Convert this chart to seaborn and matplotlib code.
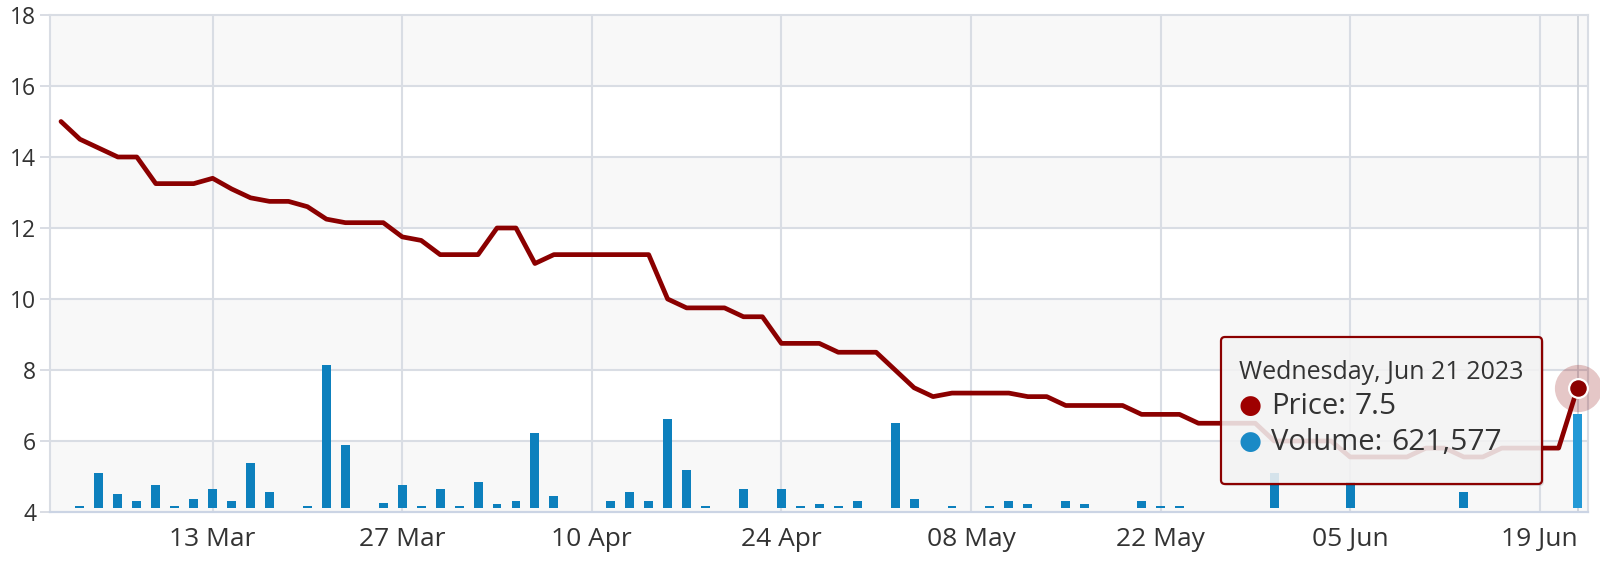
import numpy as np
import pandas as pd
import matplotlib
matplotlib.use('Agg')
import matplotlib.pyplot as plt
from matplotlib.patches import FancyBboxPatch
from matplotlib.text import Annotation
import seaborn as sns

# ---------------- data ----------------
dates = pd.bdate_range('2023-03-01', '2023-06-21')  # 81 trading days
price = [15.0, 14.5, 14.25, 14.0, 14.0, 13.25, 13.25, 13.25, 13.4, 13.1,
         12.85, 12.75, 12.75, 12.6, 12.25, 12.15, 12.15, 12.15, 11.75, 11.65,
         11.25, 11.25, 11.25, 12.0, 12.0, 11.0, 11.25, 11.25, 11.25, 11.25,
         11.25, 11.25, 10.0, 9.75, 9.75, 9.75, 9.5, 9.5, 8.75, 8.75,
         8.75, 8.5, 8.5, 8.5, 8.0, 7.5, 7.25, 7.35, 7.35, 7.35,
         7.35, 7.25, 7.25, 7.0, 7.0, 7.0, 7.0, 6.75, 6.75, 6.75,
         6.5, 6.5, 6.5, 6.5, 6.0, 6.0, 6.0, 6.0, 5.55, 5.55,
         5.55, 5.55, 5.8, 5.8, 5.55, 5.55, 5.8, 5.8, 5.8, 5.8,
         7.5]
volume = [0, 15000, 231000, 93000, 46000, 154000, 15000, 62000, 126000, 46000,
          296000, 108000, 0, 15000, 948000, 419000, 0, 31000, 154000, 15000,
          126000, 15000, 170000, 28000, 44000, 496000, 77000, 0, 0, 44000,
          106000, 44000, 589000, 249000, 15000, 0, 126000, 0, 126000, 15000,
          28000, 15000, 48000, 0, 562000, 62000, 0, 15000, 0, 15000,
          48000, 28000, 0, 48000, 28000, 0, 0, 48000, 15000, 15000,
          0, 0, 0, 0, 231000, 0, 0, 0, 172000, 0,
          0, 0, 0, 0, 106000, 0, 0, 0, 0, 0,
          621577]
tick_labels = ['13 Mar', '27 Mar', '10 Apr', '24 Apr', '08 May', '22 May', '05 Jun', '19 Jun']
y_ticks = [4, 6, 8, 10, 12, 14, 16, 18]
tooltip_title = 'Wednesday, Jun 21 2023'
tooltip_items = [('Price:', '7.5'), ('Volume:', '621,577')]

# ---------------- style ----------------
sns.set_theme(style='white')
plt.rcParams['font.family'] = ['Open Sans', 'DejaVu Sans']

W, H = 1600, 570
RED = '#8b0000'
BLUE = '#0d80bd'
BLUE_HI = '#2399d6'
GRID = '#d9dde4'
TXT = '#333333'

fig = plt.figure(figsize=(W / 100, H / 100), dpi=100)
fig.patch.set_facecolor('white')
ax = fig.add_axes([50 / W, 1 - 512 / H, (1588 - 50) / W, (512 - 15) / H])
ax2 = ax.twinx()

idx = np.arange(len(dates))
df = pd.DataFrame({'i': idx, 'price': price, 'volume': volume})

# bands
ax.set_facecolor('white')
for lo in [4, 8, 12, 16]:
    ax.axhspan(lo, lo + 2, color='#f8f8f8', lw=0, zorder=0)

# price line
sns.lineplot(data=df, x='i', y='price', ax=ax, color=RED, linewidth=3.4,
             zorder=4, solid_joinstyle='round', solid_capstyle='round')

# volume bars
sns.barplot(data=df, x='i', y='volume', ax=ax2, native_scale=True, width=0.47,
            color=BLUE, saturation=1, errorbar=None, zorder=3)
ax2.patches[-1].set_facecolor(BLUE_HI)
for p in ax2.patches:
    p.set_linewidth(0)

# limits
ax.set_xlim(-0.58, 80.55)
ax.set_ylim(4, 18)
ax2.set_ylim(-26450, 3260000)
ax2.set_xlim(-0.58, 80.55)

# ticks
tick_pos = [int(np.where(dates.strftime('%d %b') == t)[0][0]) for t in tick_labels]
ax.set_xticks(tick_pos)
ax.set_xticklabels(tick_labels)
ax.set_yticks(y_ticks)
ax.set_yticklabels([str(v) for v in y_ticks])
ax.tick_params(axis='x', length=9.4, width=1.4, color=GRID, pad=1.5,
               labelsize=19, labelcolor=TXT)
ax.tick_params(axis='y', length=7.5, width=1.4, color=GRID, pad=2.5,
               labelsize=16.5, labelcolor=TXT, left=True)
ax2.set_yticks([])
ax2.tick_params(axis='both', length=0, labelright=False)
ax.set_xlabel('')
ax.set_ylabel('')
ax2.set_xlabel('')
ax2.set_ylabel('')

# grid
for y in y_ticks[1:-1]:
    ax.axhline(y, color=GRID, lw=1.5, zorder=1)
for x in tick_pos:
    ax.axvline(x, color=GRID, lw=1.5, zorder=1)

for s in ['left', 'right', 'top']:
    ax.spines[s].set_color(GRID)
    ax.spines[s].set_linewidth(1.5)
ax.spines['bottom'].set_color('#cbd4e4')
ax.spines['bottom'].set_linewidth(1.6)
for s in ax2.spines.values():
    s.set_visible(False)

# crosshair and hover marker
last = len(dates) - 1
ax.axvline(last, color='#cfd3da', lw=1.3, zorder=2)
ax.plot([last], [price[last]], 'o', ms=34, mfc=RED, mec='none', alpha=0.22,
        zorder=5, clip_on=False)
ax.plot([last], [price[last]], 'o', ms=13.5, mfc=RED, mec='white', mew=1.6,
        zorder=6, clip_on=False)

# ---------------- tooltip ----------------
x0, y0, x1, y1 = 1221, 337, 1542, 484
tr = fig.dpi_scale_trans
shadow = FancyBboxPatch(((x0 + 2) / 100, (H - y1 - 2) / 100), (x1 - x0) / 100, (y1 - y0) / 100,
                        boxstyle='round,pad=0,rounding_size=0.04', transform=tr,
                        facecolor='black', edgecolor='none', alpha=0.10, zorder=8)
box = FancyBboxPatch((x0 / 100, (H - y1) / 100), (x1 - x0) / 100, (y1 - y0) / 100,
                     boxstyle='round,pad=0,rounding_size=0.04', transform=tr,
                     facecolor=(0.969, 0.969, 0.969, 0.86), edgecolor=RED,
                     linewidth=1.6, zorder=9)
fig.add_artist(shadow)
fig.add_artist(box)

fig.text(1239 / W, 1 - 379 / H, tooltip_title, fontsize=18, color=TXT,
         va='baseline', ha='left', zorder=10)
dot_colors = ['#9e0000', '#1a8ac6']
baselines = [414, 450]
for (lab, val), col, bl in zip(tooltip_items, dot_colors, baselines):
    fig.text(1238 / W, 1 - (bl - 1) / H, '\u25cf', fontsize=19, color=col,
             va='baseline', ha='left', zorder=10, family=['DejaVu Sans'])
    t1 = fig.text(1271 / W, 1 - bl / H, lab, fontsize=21, color=TXT,
                  va='baseline', ha='left', zorder=10)
    ann = Annotation(val, xy=(1, 0), xycoords=t1, xytext=(6.5, 0),
                     textcoords='offset points', fontsize=21.5, color=TXT,
                     fontweight='medium', va='bottom', ha='left',
                     annotation_clip=False)
    ann.set_zorder(11)
    fig.add_artist(ann)

fig.savefig('out.png', dpi=100, facecolor='white')
